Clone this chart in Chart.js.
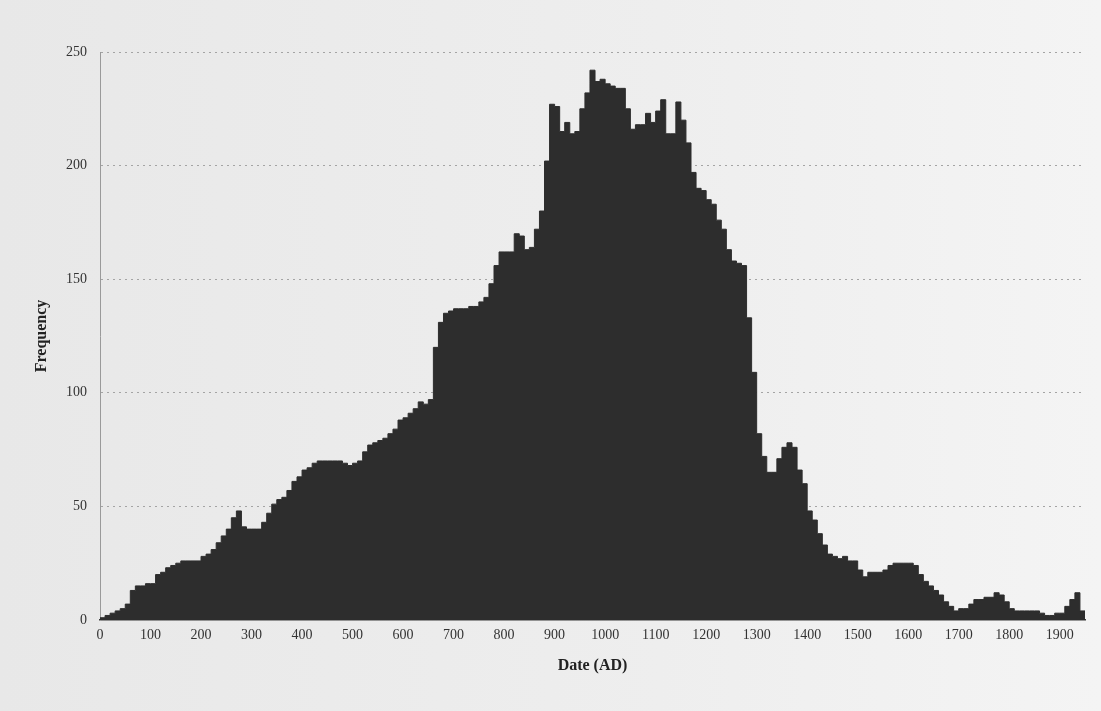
<!DOCTYPE html>
<html>
<head>
<meta charset="utf-8">
<script src="https://cdn.jsdelivr.net/npm/chart.js@4/dist/chart.umd.min.js"></script>
<style>
  html, body { margin: 0; padding: 0; background: #ececec; }
  #wrap { width: 1101px; height: 711px; }
</style>
</head>
<body>
<div id="wrap"><canvas id="chart" width="1101" height="711"></canvas></div>
<script>
// 10-year bins, first bin starts at AD 0
var binWidth = 10;
var firstBin = 0;
var frequency = [
  1, 2, 3, 4, 5, 7, 13, 15, 15, 16,            // 0-90
  16, 20, 21, 23, 24, 25, 26, 26, 26, 26,      // 100-190
  28, 29, 31, 34, 37, 40, 45, 48, 41, 40,      // 200-290
  40, 40, 43, 47, 51, 53, 54, 57, 61, 63,      // 300-390
  66, 67, 69, 70, 70, 70, 70, 70, 69, 68,      // 400-490
  69, 70, 74, 77, 78, 79, 80, 82, 84, 88,      // 500-590
  89, 91, 93, 96, 95, 97, 120, 131, 135, 136,  // 600-690
  137, 137, 137, 138, 138, 140, 142, 148, 156, 162, // 700-790
  162, 162, 170, 169, 163, 164, 172, 180, 202, 227, // 800-890
  226, 215, 219, 214, 215, 225, 232, 242, 237, 238, // 900-990
  236, 235, 234, 234, 225, 216, 218, 218, 223, 219, // 1000-1090
  224, 229, 214, 214, 228, 220, 210, 197, 190, 189, // 1100-1190
  185, 183, 176, 172, 163, 158, 157, 156, 133, 109, // 1200-1290
  82, 72, 65, 65, 71, 76, 78, 76, 66, 60,      // 1300-1390
  48, 44, 38, 33, 29, 28, 27, 28, 26, 26,      // 1400-1490
  22, 19, 21, 21, 21, 22, 24, 25, 25, 25,      // 1500-1590
  25, 24, 20, 17, 15, 13, 11, 8, 6, 4,         // 1600-1690
  5, 5, 7, 9, 9, 10, 10, 12, 11, 8,            // 1700-1790
  5, 4, 4, 4, 4, 4, 3, 2, 2, 3,                // 1800-1890
  3, 6, 9, 12, 4                               // 1900-1940
];
var yTicks = [0, 50, 100, 150, 200, 250];
var xTickStep = 100;

var points = frequency.map(function (v, i) {
  return { x: firstBin + i * binWidth, y: v };
});
// close the last bin
points.push({ x: firstBin + frequency.length * binWidth, y: frequency[frequency.length - 1] });
var xMax = firstBin + frequency.length * binWidth;

var paperBg = {
  id: 'paperBg',
  beforeDraw: function (chart) {
    var ctx = chart.ctx;
    var g = ctx.createLinearGradient(0, 0, chart.width, 0);
    g.addColorStop(0, '#e8e8e8');
    g.addColorStop(0.6, '#eeeeee');
    g.addColorStop(1, '#f4f4f4');
    ctx.save();
    ctx.fillStyle = g;
    ctx.fillRect(0, 0, chart.width, chart.height);
    ctx.restore();
  }
};

var serif = '"Liberation Serif", "DejaVu Serif", serif';

new Chart(document.getElementById('chart').getContext('2d'), {
  type: 'line',
  data: {
    datasets: [{
      data: points,
      stepped: 'before',
      fill: 'origin',
      backgroundColor: '#2d2d2d',
      borderColor: '#2d2d2d',
      borderWidth: 1,
      pointRadius: 0
    }]
  },
  options: {
    responsive: false,
    animation: false,
    layout: { padding: { top: 52, right: 16, left: 28, bottom: 32 } },
    plugins: {
      legend: { display: false },
      tooltip: { enabled: false }
    },
    scales: {
      x: {
        type: 'linear',
        min: firstBin,
        max: xMax,
        offset: false,
        afterFit: function (scale) { scale.height = 59; },
        grid: { display: false, drawTicks: false },
        border: { display: true, color: '#3a3a3a', width: 1.5 },
        ticks: {
          stepSize: xTickStep,
          includeBounds: false,
          maxRotation: 0,
          autoSkip: false,
          padding: 7,
          color: '#333',
          font: { family: serif, size: 14 },
          callback: function (v) { return String(v); }
        },
        title: {
          display: true,
          text: 'Date (AD)',
          color: '#222',
          font: { family: serif, size: 16, weight: 'bold' },
          padding: { top: 14 }
        }
      },
      y: {
        min: 0,
        max: yTicks[yTicks.length - 1],
        afterFit: function (scale) { scale.width = 72; },
        afterBuildTicks: function (scale) {
          scale.ticks = yTicks.map(function (v) { return { value: v }; });
        },
        grid: {
          color: function (c) { return c.tick.value === 0 ? 'rgba(0,0,0,0)' : '#a4a4a4'; },
          lineWidth: 1,
          drawTicks: false
        },
        border: { display: true, color: '#9a9a9a', width: 1, dash: [2, 4] },
        ticks: {
          padding: 13,
          color: '#333',
          font: { family: serif, size: 14 }
        },
        title: {
          display: true,
          text: 'Frequency',
          color: '#222',
          font: { family: serif, size: 16, weight: 'bold' },
          padding: { bottom: 4 }
        }
      }
    }
  },
  plugins: [paperBg]
});
</script>
</body>
</html>
